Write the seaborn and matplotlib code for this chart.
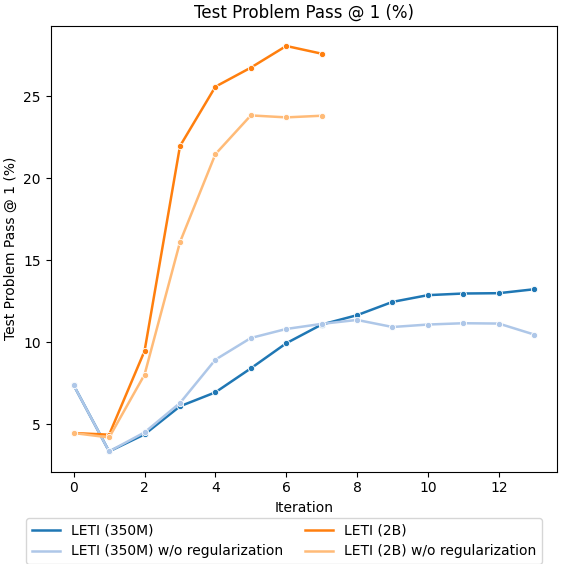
import matplotlib
matplotlib.use("Agg")
import matplotlib.pyplot as plt
from matplotlib.lines import Line2D
import seaborn as sns
import pandas as pd

iters_350m = list(range(14))
leti_350m = [7.38, 3.35, 4.39, 6.10, 6.95, 8.41, 9.94, 11.08, 11.65, 12.46, 12.87, 12.97, 12.99, 13.23]
leti_350m_noreg = [7.38, 3.35, 4.51, 6.30, 8.94, 10.26, 10.81, 11.12, 11.36, 10.93, 11.08, 11.16, 11.14, 10.47]
iters_2b = list(range(8))
leti_2b = [4.47, 4.37, 9.47, 21.95, 25.57, 26.73, 28.05, 27.58]
leti_2b_noreg = [4.47, 4.20, 8.03, 16.10, 21.46, 23.82, 23.70, 23.80]

names = ["LETI (350M)", "LETI (350M) w/o regularization", "LETI (2B)", "LETI (2B) w/o regularization"]
colors = ["#1f77b4", "#aec7e8", "#ff7f0e", "#ffbb78"]

rows = []
for name, xs, ys in [(names[0], iters_350m, leti_350m), (names[1], iters_350m, leti_350m_noreg),
                     (names[2], iters_2b, leti_2b), (names[3], iters_2b, leti_2b_noreg)]:
    for x, y in zip(xs, ys):
        rows.append({"Iteration": x, "Test Problem Pass @ 1 (%)": y, "Model": name})
df = pd.DataFrame(rows)

fig = plt.figure(figsize=(5.61, 5.64), dpi=100)
ax = fig.add_axes([50.7/561, 1-471.7/564, 506.5/561, (471.7-25.7)/564])
sns.lineplot(data=df, x="Iteration", y="Test Problem Pass @ 1 (%)", hue="Model",
             hue_order=names, palette=colors, marker="o", markersize=4.5,
             markeredgecolor="white", markeredgewidth=0.6, linewidth=1.8, ax=ax, legend=False)
ax.set_title("Test Problem Pass @ 1 (%)", fontsize=12)
ax.set_xlabel("Iteration", fontsize=10)
ax.set_ylabel("Test Problem Pass @ 1 (%)", fontsize=10)
ax.set_xticks([0, 2, 4, 6, 8, 10, 12])
ax.set_yticks([5, 10, 15, 20, 25])
handles = [Line2D([], [], color=c, linewidth=1.8) for c in colors]
fig.legend(handles, names, loc="upper center", bbox_to_anchor=(284/561, 1-511/564), ncol=2,
           fontsize=10, frameon=True, columnspacing=1.6)
fig.savefig("out.png", dpi=100)
